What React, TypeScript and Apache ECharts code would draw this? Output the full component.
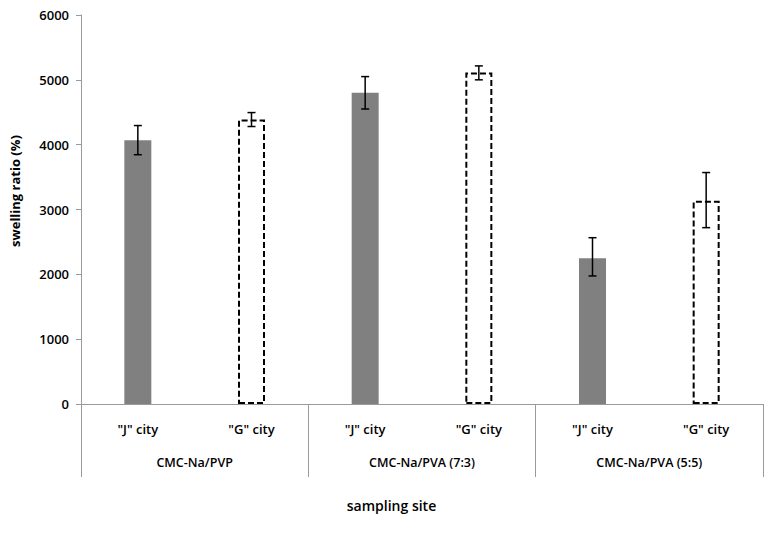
import React, { useEffect, useRef } from "react";
import * as echarts from "echarts";

const siteLabels = ['"J" city', '"G" city', '"J" city', '"G" city', '"J" city', '"G" city'];
const groupLabels = ["CMC-Na/PVP", "CMC-Na/PVA (7:3)", "CMC-Na/PVA (5:5)"];
const swellingValues = [4070, 4390, 4800, 5115, 2250, 3135];
const errorLow = [3845, 4280, 4550, 5000, 1975, 2720];
const errorHigh = [4295, 4495, 5050, 5215, 2565, 3570];
const yTicks = { min: 0, max: 6000, interval: 1000 };

const FONT = "'Open Sans', 'Noto Sans', sans-serif";
const AXIS_GRAY = "#9a9a9a";

export default function App() {
  const ref = useRef<HTMLDivElement>(null);
  useEffect(() => {
    if (!ref.current) return;
    const chart = echarts.init(ref.current, undefined, { renderer: "svg" });
    const barData = swellingValues.map((v, i) =>
      i % 2 === 0
        ? { value: v, itemStyle: { color: "#808080", borderWidth: 0 } }
        : {
            value: v,
            itemStyle: {
              color: "#ffffff",
              borderColor: "#000000",
              borderWidth: 2,
              borderType: [6, 3],
            },
          }
    );
    const errData = swellingValues.map((_, i) => [i, errorLow[i], errorHigh[i]]);
    chart.setOption({
      animation: false,
      textStyle: { fontFamily: FONT },
      title: {
        text: "sampling site",
        left: "center",
        top: 493,
        textStyle: { fontFamily: FONT, fontSize: 14, fontWeight: 600, color: "#000" },
      },
      graphic: [
        {
          type: "text",
          x: 15,
          y: 191,
          rotation: Math.PI / 2,
          style: {
            text: "swelling ratio (%)",
            fontFamily: FONT,
            fontSize: 13,
            fontWeight: "bold",
            fill: "#000",
            textAlign: "center",
            textVerticalAlign: "middle",
          },
        },
      ],
      grid: { left: 81, right: 20, top: 15, bottom: 131 },
      xAxis: [
        {
          type: "category",
          data: siteLabels,
          position: "bottom",
          axisLine: { show: true, lineStyle: { color: AXIS_GRAY, width: 1 } },
          axisTick: { show: false },
          axisLabel: { margin: 18, fontSize: 13, fontWeight: 600, color: "#000", fontFamily: FONT },
        },
        {
          type: "category",
          data: groupLabels,
          position: "bottom",
          axisLine: { show: true, lineStyle: { color: AXIS_GRAY, width: 1 } },
          axisTick: { show: true, length: 73, lineStyle: { color: AXIS_GRAY, width: 1 } },
          axisLabel: { margin: 52, fontSize: 12.5, fontWeight: 600, color: "#000", fontFamily: FONT },
        },
      ],
      yAxis: {
        type: "value",
        min: yTicks.min,
        max: yTicks.max,
        interval: yTicks.interval,
        axisLine: { show: true, lineStyle: { color: AXIS_GRAY, width: 1 } },
        axisTick: { show: true, length: 5, lineStyle: { color: AXIS_GRAY } },
        axisLabel: {
          fontSize: 13,
          fontWeight: 600,
          color: "#000",
          fontFamily: FONT,
          margin: 12,
          formatter: (v: number) => String(v),
        },
        splitLine: { show: false },
      },
      series: [
        {
          type: "bar",
          xAxisIndex: 0,
          data: barData,
          barWidth: 27,
        },
        {
          type: "custom",
          xAxisIndex: 0,
          data: errData,
          z: 10,
          renderItem: (params: any, api: any) => {
            const x = api.value(0);
            const lo = api.coord([x, api.value(1)]);
            const hi = api.coord([x, api.value(2)]);
            const cx = lo[0];
            const hw = 4;
            const style = { stroke: "#000", lineWidth: 1.5 };
            return {
              type: "group",
              children: [
                { type: "line", shape: { x1: cx, y1: hi[1], x2: cx, y2: lo[1] }, style },
                { type: "line", shape: { x1: cx - hw, y1: hi[1], x2: cx + hw, y2: hi[1] }, style },
                { type: "line", shape: { x1: cx - hw, y1: lo[1], x2: cx + hw, y2: lo[1] }, style },
              ],
            };
          },
        },
      ],
    });
    return () => chart.dispose();
  }, []);
  return <div ref={ref} style={{ width: 783, height: 535, margin: -8 }} />;
}
